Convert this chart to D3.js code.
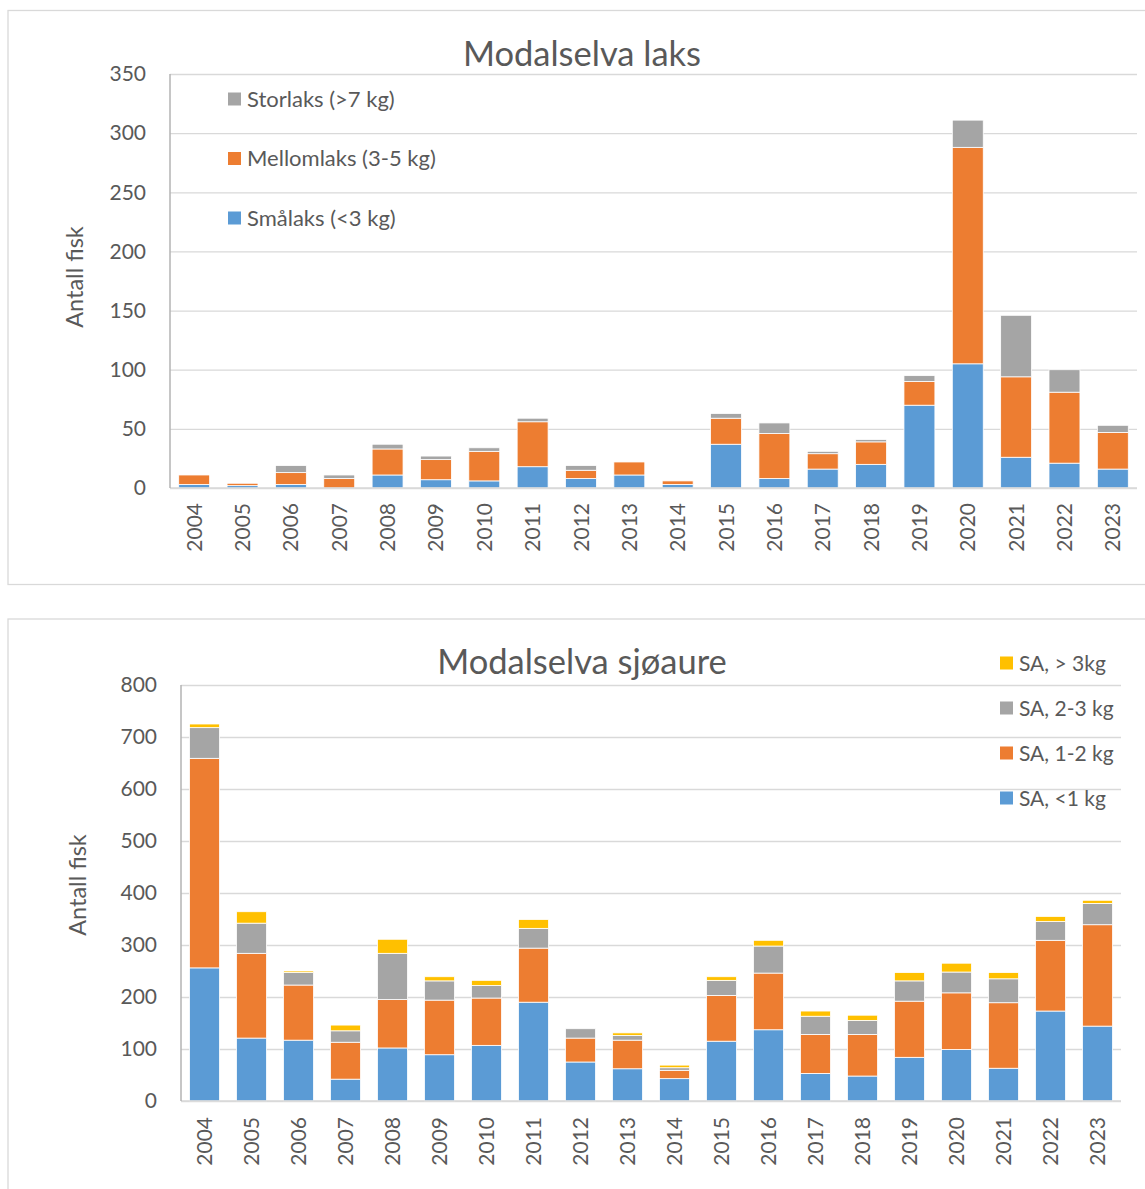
<!DOCTYPE html>
<html><head><meta charset="utf-8">
<script src="https://cdn.jsdelivr.net/npm/d3@7"></script>
<style>
html,body{margin:0;padding:0;background:#fff;}
svg text{font-family:Lato,"Open Sans",sans-serif;fill:#595959;}
</style></head>
<body>
<svg id="c" width="1145" height="1189"></svg>
<script>
const years = ["2004","2005","2006","2007","2008","2009","2010","2011","2012","2013","2014","2015","2016","2017","2018","2019","2020","2021","2022","2023"];

// Modalselva laks
const laksSmall  = [3,2,3,0,11,7,6,18,8,11,3,37,8,16,20,70,105,26,21,16];
const laksMellom = [8,2,10,8,22,17,25,38,7,11,3,22,38,13,19,20,183,68,60,31];
const laksStor   = [0,0,6,3,4,3,3,3,4,0,0,4,9,2,2,5,23,52,19,6];
const laksNames  = ["Smålaks (<3 kg)","Mellomlaks (3-5 kg)","Storlaks (>7 kg)"];
const laksTicks  = [0,50,100,150,200,250,300,350];

// Modalselva sjøaure
const saU1   = [256,121,117,42,102,89,107,190,75,62,43,115,137,53,48,84,99,63,173,144];
const sa1to2 = [403,163,106,71,93,105,91,104,46,55,16,88,109,75,80,108,109,126,136,195];
const sa2to3 = [59,58,24,22,89,37,24,38,18,9,5,29,52,35,27,39,40,46,36,41];
const saO3   = [7,22,3,11,27,8,10,17,0,5,5,7,11,10,10,16,17,12,10,6];
const saNames = ["SA, <1 kg","SA, 1-2 kg","SA, 2-3 kg","SA, > 3kg"];
const saTicks = [0,100,200,300,400,500,600,700,800];

const colors = ["#5B9BD5","#ED7D31","#A5A5A5","#FFC000"];

const svg = d3.select("#c");

function drawChart(cfg){
  const g = svg.append("g");
  // frame
  g.append("rect").attr("x",cfg.frame[0]).attr("y",cfg.frame[1])
    .attr("width",cfg.frame[2]).attr("height",cfg.frame[3])
    .attr("fill","#fff").attr("stroke","#d9d9d9").attr("stroke-width",1.3);

  const x = d3.scaleBand().domain(years).range([cfg.left,cfg.right]).paddingInner(0.36).paddingOuter(0.18);
  const y = d3.scaleLinear().domain([0,cfg.max]).range([cfg.bottom,cfg.top]);

  // gridlines
  g.append("g").attr("transform",`translate(${cfg.left},0)`)
    .call(d3.axisLeft(y).tickValues(cfg.ticks).tickSize(-(cfg.right-cfg.left)).tickFormat(""))
    .call(a=>a.select(".domain").remove())
    .call(a=>a.selectAll("line").attr("stroke","#d9d9d9").attr("stroke-width",1.3));

  // tick labels
  g.append("g").attr("transform",`translate(${cfg.left-8},0)`)
    .call(d3.axisLeft(y).tickValues(cfg.ticks).tickSize(0).tickPadding(16))
    .call(a=>a.select(".domain").remove())
    .call(a=>a.selectAll("text").attr("font-size",21).attr("fill","#595959").style("font-family","Lato"));

  // stacked bars
  const rows = years.map((yr,i)=>{ const o={year:yr}; cfg.series.forEach((s,k)=>o["s"+k]=s[i]); return o; });
  const keys = cfg.series.map((s,k)=>"s"+k);
  const stacked = d3.stack().keys(keys)(rows);
  g.append("g").selectAll("g").data(stacked).join("g")
    .attr("fill",(d,i)=>colors[i])
    .selectAll("rect").data(d=>d).join("rect")
      .attr("x",d=>x(d.data.year))
      .attr("width",x.bandwidth())
      .attr("y",d=>y(d[1]))
      .attr("height",d=>Math.max(0,y(d[0])-y(d[1])))
      .attr("stroke","#fff").attr("stroke-width",0.8);

  // x axis line
  g.append("line").attr("x1",cfg.left).attr("x2",cfg.right).attr("y1",cfg.bottom).attr("y2",cfg.bottom)
    .attr("stroke","#d9d9d9").attr("stroke-width",1.5);
  // y axis line
  g.append("line").attr("x1",cfg.left).attr("x2",cfg.left).attr("y1",cfg.top).attr("y2",cfg.bottom)
    .attr("stroke","#b3b3b3").attr("stroke-width",1.5);

  // x labels (rotated)
  g.append("g").attr("transform",`translate(0,${cfg.bottom})`)
    .call(d3.axisBottom(x).tickSize(0).tickPadding(0))
    .call(a=>a.select(".domain").remove())
    .call(a=>a.selectAll("text")
      .attr("font-size",21).attr("fill","#595959").style("font-family","Lato")
      .attr("transform","rotate(-90)")
      .attr("text-anchor","end")
      .attr("x",-cfg.xlabOff).attr("y",0).attr("dy","0.36em"));

  // title
  g.append("text").attr("x",cfg.titleX).attr("y",cfg.titleY).attr("text-anchor","middle")
    .attr("font-size",34.5).text(cfg.title);
  // y title
  g.append("text").attr("transform",`translate(${cfg.ytX},${cfg.ytY}) rotate(-90)`)
    .attr("text-anchor","middle").attr("dy","0.35em").attr("font-size",23.5).text("Antall fisk");

  // legend
  const lg = g.append("g");
  cfg.legend.forEach((k,i)=>{
    const yy = cfg.legY + i*cfg.legStep;
    lg.append("rect").attr("x",cfg.legX).attr("y",yy-6.5).attr("width",13).attr("height",13).attr("fill",colors[k]);
    lg.append("text").attr("x",cfg.legX+19).attr("y",yy).attr("dy","0.36em").attr("font-size",cfg.legFont).text(cfg.names[k]);
  });
}

drawChart({
  frame:[8,10.5,1150,574],
  left:170,right:1137,top:74,bottom:488,max:350,ticks:laksTicks,
  series:[laksSmall,laksMellom,laksStor],names:laksNames,
  title:"Modalselva laks",titleX:582,titleY:66,ytX:75,ytY:277,
  legend:[2,1,0],legX:228,legY:99,legStep:59.5,xlabOff:15,legFont:22
});

drawChart({
  frame:[8,619,1150,600],
  left:181,right:1121,top:685,bottom:1101,max:800,ticks:saTicks,
  series:[saU1,sa1to2,sa2to3,saO3],names:saNames,
  title:"Modalselva sjøaure",titleX:582,titleY:674,ytX:78,ytY:885,
  legend:[3,2,1,0],legX:1000,legY:663,legStep:45,xlabOff:16,legFont:21
});
</script>
</body></html>
